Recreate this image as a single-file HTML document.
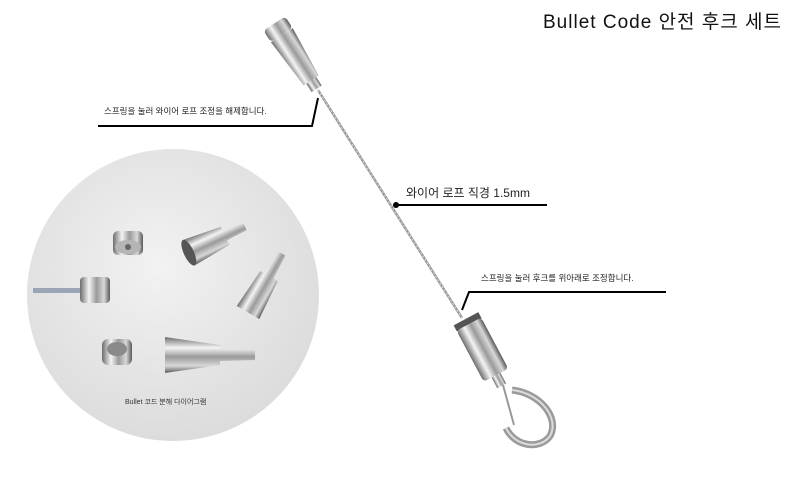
<!DOCTYPE html>
<html><head><meta charset="utf-8"><style>
body{margin:0;background:#fff;width:790px;height:489px;overflow:hidden}
svg{display:block}
text{font-family:"Liberation Sans","Noto Sans CJK KR",sans-serif}
</style></head><body>
<svg width="790" height="489" viewBox="0 0 790 489">
<defs>
<radialGradient id="bg" cx="0.45" cy="0.4" r="0.6"><stop offset="0" stop-color="#f2f2f2"/><stop offset="1" stop-color="#dcdcdc"/></radialGradient>
<linearGradient id="met" x1="0" y1="0" x2="1" y2="0"><stop offset="0" stop-color="#6d6d6d"/><stop offset="0.3" stop-color="#f4f4f4"/><stop offset="0.55" stop-color="#9a9a9a"/><stop offset="0.8" stop-color="#d8d8d8"/><stop offset="1" stop-color="#5a5a5a"/></linearGradient>
<linearGradient id="metv" x1="0" y1="0" x2="0" y2="1"><stop offset="0" stop-color="#6d6d6d"/><stop offset="0.3" stop-color="#f4f4f4"/><stop offset="0.55" stop-color="#9a9a9a"/><stop offset="0.8" stop-color="#d8d8d8"/><stop offset="1" stop-color="#5a5a5a"/></linearGradient>
</defs>
<circle cx="173" cy="295" r="146" fill="url(#bg)"/>
<g transform="translate(128,243)"><rect x="-15" y="-12" width="30" height="24" rx="5" fill="url(#met)"/><ellipse cx="0" cy="4" rx="13" ry="7" fill="#b5b5b5"/><circle cx="0" cy="4" r="3" fill="#666"/></g>
<g transform="translate(216,240) rotate(-25)"><path d="M-30,-14 L10,-10 L10,-5 L32,-4 L32,4 L10,5 L10,10 L-30,14 Z" fill="url(#metv)"/><ellipse cx="-30" cy="0" rx="5" ry="14" fill="#555"/></g>
<g transform="translate(265,283) rotate(-60)"><path d="M-34,-13 L8,-10 L8,-5 L34,-4 L34,4 L8,5 L8,10 L-34,13 Z" fill="url(#metv)"/></g>
<g transform="translate(95,290)"><rect x="-62" y="-2" width="52" height="5" fill="#9aa6b5"/><rect x="-15" y="-13" width="30" height="26" rx="4" fill="url(#met)"/></g>
<g transform="translate(117,352)"><rect x="-15" y="-13" width="30" height="26" rx="6" fill="url(#met)"/><ellipse cx="0" cy="-3" rx="10" ry="7" fill="#8a8a8a"/></g>
<g transform="translate(210,355)"><path d="M-45,-18 L10,-10 L10,-6 L45,-5 L45,5 L10,6 L10,10 L-45,18 Z" fill="url(#metv)"/></g>
<text x="125" y="404" font-size="7" fill="#333">Bullet 코드 분해 다이어그램</text>
<line x1="318" y1="90" x2="462" y2="318" stroke="#999" stroke-width="2.5"/>
<line x1="318" y1="90" x2="462" y2="318" stroke="#ddd" stroke-width="1" stroke-dasharray="2 2"/>
<g transform="translate(296,57) rotate(-33)"><rect x="-13" y="-40" width="26" height="14" rx="4" fill="url(#met)"/><path d="M-13,-26 L13,-26 L9,28 L-9,28 Z" fill="url(#met)"/><rect x="-6" y="28" width="12" height="10" fill="url(#met)"/></g>
<g transform="translate(481,347) rotate(-28)"><rect x="-14" y="-32" width="28" height="7" fill="#555"/><rect x="-14" y="-26" width="28" height="58" rx="4" fill="url(#met)"/><rect x="-5" y="32" width="10" height="12" fill="url(#met)"/></g>
<path d="M512,390 C540,393 560,418 550,436 C540,450 515,447 506,428" fill="none" stroke="#9a9a9a" stroke-width="7"/>
<path d="M512,390 C540,393 560,418 550,436 C540,450 515,447 506,428" fill="none" stroke="#dcdcdc" stroke-width="2"/>
<line x1="503" y1="385" x2="514" y2="425" stroke="#999" stroke-width="2"/>
<polyline points="98,126 312,126 318,98" fill="none" stroke="#000" stroke-width="2"/>
<text x="104" y="114" font-size="8.5" fill="#222">스프링을 눌러 와이어 로프 조정을 해제합니다.</text>
<circle cx="396" cy="205" r="3" fill="#000"/>
<line x1="396" y1="205" x2="547" y2="205" stroke="#000" stroke-width="2"/>
<text x="406" y="197" font-size="12" fill="#222">와이어 로프 직경 1.5mm</text>
<polyline points="666,292 469,292 462,310" fill="none" stroke="#000" stroke-width="2"/>
<text x="481" y="281" font-size="8.5" fill="#222">스프링을 눌러 후크를 위아래로 조정합니다.</text>
<text x="543" y="28" font-size="19" fill="#111" textLength="238">Bullet Code 안전 후크 세트</text>
</svg>
</body></html>
